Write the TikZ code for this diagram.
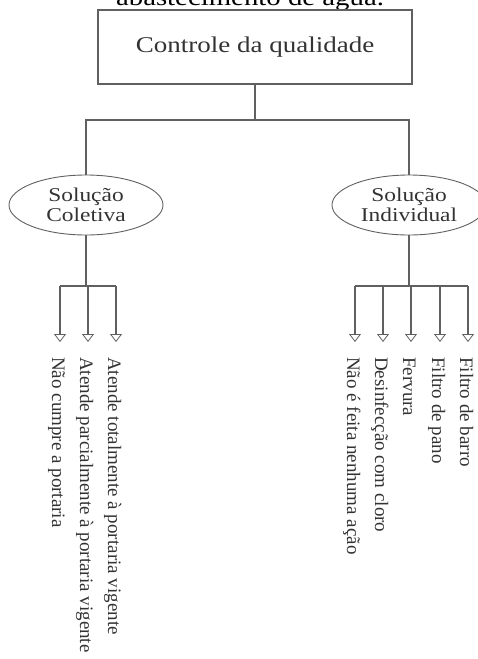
\documentclass[tikz,border=0pt]{standalone}
\usepackage{fontspec}
\setmainfont{Liberation Serif}
\newfontfamily\widefont[FakeStretch=1.2]{Liberation Serif}
\usepackage{tikz}
\usetikzlibrary{arrows.meta, positioning, shapes.geometric}
\definecolor{linegray}{HTML}{606060}
\definecolor{textgray}{HTML}{333333}

\begin{document}
\begin{tikzpicture}[
    x=1pt, y=-1pt,
    topbox/.style={rectangle, draw=linegray, line width=1.1pt, minimum width=314pt, minimum height=74pt, text=textgray, font=\widefont\fontsize{22.5}{24}\selectfont},
    solbox/.style={ellipse, draw=linegray, line width=0.9pt, minimum width=154pt, minimum height=60pt, inner sep=0pt, align=center, text=textgray, font=\widefont\fontsize{19.5}{20.5}\selectfont},
    leaflabel/.style={rotate=-90, anchor=base west, inner sep=0pt, text=textgray, font=\fontsize{19}{21}\selectfont},
    line/.style={draw=linegray, line width=1.1pt},
    arrow/.style={line, -{Triangle[open, length=8pt, width=12pt, line width=0.8pt]}}
]
    \useasboundingbox (0,0) rectangle (477,659);

    % title cut off by the page
    \node[anchor=base, inner sep=0pt, font=\widefont\fontsize{24}{26}\selectfont] (title) at (250,5) {abastecimento de água.};

    \node[topbox] (ctrl) at (255,47) {Controle da qualidade};

    \node[solbox] (col) at (86,205) {Solução\\Coletiva};
    \node[solbox] (ind) at (409,205) {Solução\\Individual};

    \coordinate (hub) at (255,120);
    \draw[line] (ctrl.south) -- (hub) -| (col.north);
    \draw[line] (hub) -| (ind.north);

    % Solução Coletiva
    \coordinate (colhub) at (86,286);
    \coordinate (c1) at (60,342);
    \coordinate (c2) at (88,342);
    \coordinate (c3) at (116,342);
    \draw[line] (col.south) -- (colhub);
    \draw[line] (c1 |- colhub) -- (c3 |- colhub);
    \draw[arrow] (c1 |- colhub) -- (c1);
    \draw[arrow] (c2 |- colhub) -- (c2);
    \draw[arrow] (c3 |- colhub) -- (c3);

    \node[leaflabel] (n1) at (52,357) {Não cumpre a portaria};
    \node[leaflabel] (n2) at (80,357) {Atende parcialmente à portaria vigente};
    \node[leaflabel] (n3) at (108,357) {Atende totalmente à portaria vigente};

    % Solução Individual
    \coordinate (indhub) at (409,286);
    \coordinate (i1) at (355,342);
    \coordinate (i2) at (383,342);
    \coordinate (i3) at (411,342);
    \coordinate (i4) at (440,342);
    \coordinate (i5) at (468,342);
    \draw[line] (ind.south) -- (indhub);
    \draw[line] (i1 |- indhub) -- (i5 |- indhub);
    \draw[arrow] (i1 |- indhub) -- (i1);
    \draw[arrow] (i2 |- indhub) -- (i2);
    \draw[arrow] (i3 |- indhub) -- (i3);
    \draw[arrow] (i4 |- indhub) -- (i4);
    \draw[arrow] (i5 |- indhub) -- (i5);

    \node[leaflabel] (m1) at (347,357) {Não é feita nenhuma ação};
    \node[leaflabel] (m2) at (375,357) {Desinfecção com cloro};
    \node[leaflabel] (m3) at (403,357) {Fervura};
    \node[leaflabel] (m4) at (432,357) {Filtro de pano};
    \node[leaflabel] (m5) at (460,357) {Filtro de barro};
\end{tikzpicture}
\end{document}
